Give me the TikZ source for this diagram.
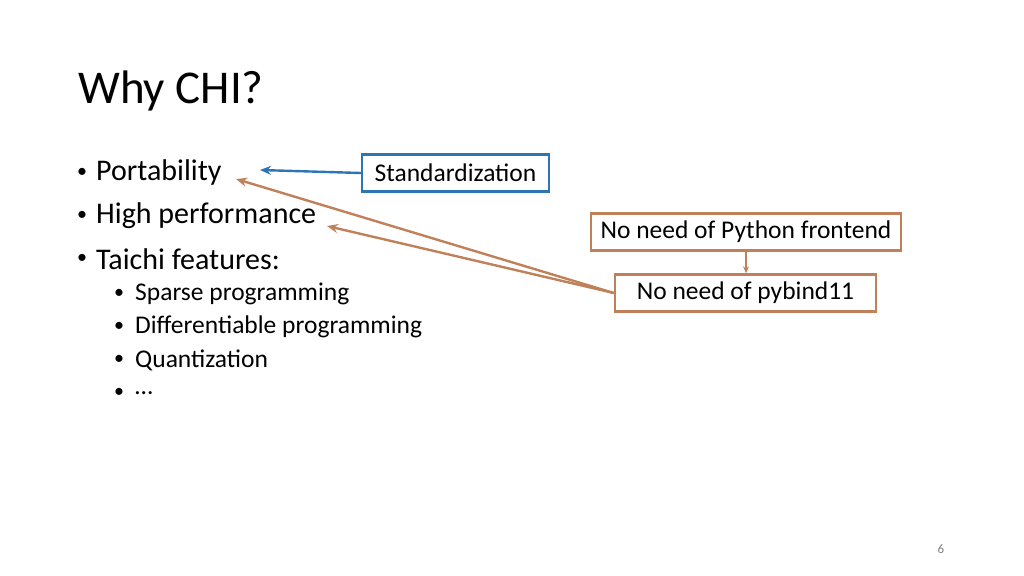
\documentclass[tikz,border=0pt]{standalone}
\usepackage{fontspec}
\setmainfont{Carlito}
\usetikzlibrary{arrows.meta}
\definecolor{bl}{HTML}{2E75B6}
\definecolor{br}{HTML}{C0815A}
\begin{document}
\begin{tikzpicture}[x=1pt,y=-1pt,
  box/.style={draw,line width=2.4pt,minimum height=37pt,inner xsep=6pt,font=\fontsize{25.5}{28}\selectfont},
  bul/.style={anchor=west,inner sep=0pt,font=\fontsize{30}{33}\selectfont},
  sub/.style={anchor=west,inner sep=0pt,font=\fontsize{25.5}{28}\selectfont},
  dot/.style={anchor=west,inner sep=0pt,font=\fontsize{20}{22}\selectfont},
  arr/.style={line width=2.4pt,-{Stealth[length=11pt,width=9pt]}}]
\useasboundingbox (0,0) rectangle (1024,575);
\node[anchor=base west,inner sep=0pt,font=\fontsize{47}{50}\selectfont] (title) at (78,103) {Why CHI?};
\node[dot] (b1d) at (77,173) {•}; \node[bul] (b1) at (96,173) {Portability};
\node[dot] (b2d) at (77,216) {•}; \node[bul] (b2) at (96,216) {High performance};
\node[dot] (b3d) at (77,259) {•}; \node[bul] (b3) at (96,259) {Taichi features:};
\node[dot] (s1d) at (114,294) {•}; \node[sub] (s1) at (135,294) {Sparse programming};
\node[dot] (s2d) at (114,327) {•}; \node[sub] (s2) at (135,327) {Differentiable programming};
\node[dot] (s3d) at (114,360) {•}; \node[sub] (s3) at (135,360) {Quantization};
\node[dot] (s4d) at (114,393) {•}; \node[sub] (s4) at (135,393) {…};
\node[box,draw=bl,minimum width=187pt] (std) at (455.5,173) {Standardization};
\node[box,draw=br,minimum width=310pt] (py) at (746,232) {No need of Python frontend};
\node[box,draw=br,minimum width=261pt] (pb) at (745.5,293) {No need of pybind11};
\coordinate (t1) at (260,170);
\coordinate (t2) at (236,179);
\coordinate (t3) at (327,226);
\draw[arr,draw=bl,fill=bl] (std.west) -- (t1);
\draw[arr,draw=br,fill=br] (pb.west) -- (t2);
\draw[arr,draw=br,fill=br] (pb.west) -- (t3);
\draw[line width=1.6pt,draw=br,-{Stealth[length=7pt,width=6pt]}] (py.south) -- (py.south |- pb.north);
\node[font=\fontsize{13}{14}\selectfont,text=gray] (pg) at (941,549) {6};
\end{tikzpicture}
\end{document}
